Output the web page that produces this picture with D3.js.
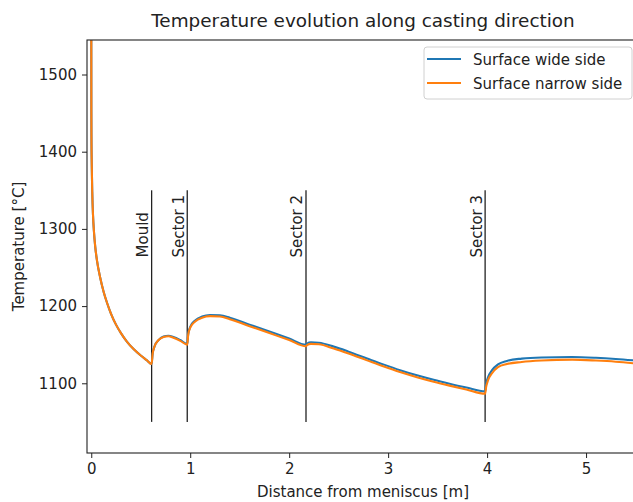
<!DOCTYPE html>
<html>
<head>
<meta charset="utf-8">
<script src="https://cdn.jsdelivr.net/npm/d3@7"></script>
<style>
    body { margin: 0; background: #fff; }
    text { font-family: "DejaVu Sans", sans-serif; fill: #222; }
</style>
</head>
<body>
<div id="chart" style="width:633px;height:502px;"></div>
<script>
// Distance from meniscus [m]
const distance = [
    0, 0.001, 0.002, 0.005, 0.01, 0.018, 0.027, 0.04, 0.058, 0.09, 0.124, 0.16, 0.20, 0.25, 0.30, 0.36, 0.43, 0.50, 0.56, 0.61,
    0.62, 0.64, 0.68, 0.73, 0.78, 0.83, 0.90, 0.97,
    0.98, 1.00, 1.05, 1.12, 1.20, 1.30, 1.40, 1.60, 1.80, 2.00, 2.17,
    2.18, 2.22, 2.30, 2.45, 2.60, 2.78, 2.95, 3.12, 3.30, 3.46, 3.62, 3.79, 3.98,
    3.99, 4.01, 4.05, 4.11, 4.20, 4.35, 4.55, 4.86, 5.10, 5.30, 5.55
];

// Surface temperature, wide side [°C]
const tempWide = [
    1600, 1455, 1420, 1383, 1348, 1317, 1297, 1277, 1259, 1237, 1219, 1204, 1190, 1176, 1165, 1154, 1144, 1136, 1130, 1125,
    1138, 1148, 1156, 1160.5, 1161.5, 1160, 1156, 1151,
    1164, 1173, 1181.5, 1186.5, 1188.5, 1188, 1185, 1176, 1167, 1158, 1150,
    1151.5, 1153, 1152.5, 1147.5, 1141, 1132.5, 1124.5, 1117, 1110, 1104.5, 1099.5, 1094.5, 1089.5,
    1099, 1108, 1117, 1124.5, 1129, 1132, 1133.5, 1134, 1133, 1131.5, 1129
];

// Surface temperature, narrow side [°C]
const tempNarrow = [
    1600, 1455, 1420, 1383, 1348, 1317, 1297, 1277, 1259, 1237, 1219, 1204, 1190, 1176, 1165, 1154, 1144, 1136, 1130, 1125,
    1138, 1148, 1156, 1160, 1161, 1159, 1155, 1150,
    1163, 1172, 1180, 1185, 1187, 1186.5, 1183, 1174, 1165, 1156, 1148,
    1149.5, 1151, 1150.5, 1145, 1138.5, 1130, 1122, 1114.5, 1107.5, 1102, 1097, 1092, 1086.5,
    1095, 1104, 1113, 1121, 1125, 1127.6, 1129.5, 1130.6, 1129.5, 1128, 1125
];

const seriesNames = ['Surface wide side', 'Surface narrow side'];
const seriesColors = ['#1f77b4', '#ff7f0e'];

// Zone boundaries
const zoneNames = ['Mould', 'Sector 1', 'Sector 2', 'Sector 3'];
const zoneEnds = [0.61, 0.97, 2.17, 3.98];
const zoneLineRange = [1050, 1350];
const zoneLabelTemp = 1263;

const xTicks = [0, 1, 2, 3, 4, 5];
const yTicks = [1100, 1200, 1300, 1400, 1500];

/**
 * Line chart of surface temperature along casting direction
 */
class TemperatureChart {
    constructor(elementId) {
        this.elementId = elementId;
        this.margin = { top: 40, right: -6, bottom: 49, left: 87 };
    }

    init() {
        const container = document.getElementById(this.elementId);
        container.innerHTML = '';

        const width = 633;
        const height = 502;
        const m = this.margin;
        const innerWidth = width - m.left - m.right;
        const innerHeight = height - m.top - m.bottom;

        const svg = d3.select(container)
            .append('svg')
            .attr('width', width)
            .attr('height', height);

        const x = d3.scaleLinear().domain([-0.043, 5.535]).range([0, innerWidth]);
        const y = d3.scaleLinear().domain([1009.7, 1544.7]).range([innerHeight, 0]);

        const g = svg.append('g')
            .attr('transform', `translate(${m.left},${m.top})`);

        g.append('clipPath')
            .attr('id', 'plot-clip')
            .append('rect')
            .attr('width', innerWidth)
            .attr('height', innerHeight);

        // Axes
        const xAxis = g.append('g')
            .attr('transform', `translate(0,${innerHeight})`)
            .call(d3.axisBottom(x).tickValues(xTicks).tickFormat(d3.format('d')).tickSize(5).tickPadding(5));
        const yAxis = g.append('g')
            .call(d3.axisLeft(y).tickValues(yTicks).tickFormat(d3.format('d')).tickSize(5).tickPadding(5));

        [xAxis, yAxis].forEach(a => {
            a.select('.domain').remove();
            a.selectAll('line').attr('stroke', '#222').attr('stroke-width', 1);
            a.selectAll('text')
                .style('font-size', '15px')
                .style('font-family', '"DejaVu Sans", sans-serif')
                .attr('fill', '#222');
        });

        // Zone boundary lines and labels
        const zones = g.append('g').selectAll('.zone')
            .data(zoneEnds)
            .enter()
            .append('g')
            .attr('class', 'zone');

        zones.append('line')
            .attr('x1', d => x(d))
            .attr('x2', d => x(d))
            .attr('y1', y(zoneLineRange[0]))
            .attr('y2', y(zoneLineRange[1]))
            .attr('stroke', '#222')
            .attr('stroke-width', 1.3);

        zones.append('text')
            .attr('transform', d => `translate(${x(d) - 3.5},${y(zoneLabelTemp)}) rotate(-90)`)
            .attr('text-anchor', 'start')
            .style('font-size', '15px')
            .text((d, i) => zoneNames[i]);

        // Temperature lines
        const line = d3.line()
            .x((d, i) => x(distance[i]))
            .y(d => y(d))
            .curve(d3.curveMonotoneX);

        g.append('g')
            .attr('clip-path', 'url(#plot-clip)')
            .selectAll('.series')
            .data([tempWide, tempNarrow])
            .enter()
            .append('path')
            .attr('class', 'series')
            .attr('d', line)
            .attr('fill', 'none')
            .attr('stroke', (d, i) => seriesColors[i])
            .attr('stroke-width', 2.1);

        // Frame
        g.append('rect')
            .attr('width', innerWidth)
            .attr('height', innerHeight)
            .attr('fill', 'none')
            .attr('stroke', '#222')
            .attr('stroke-width', 1.1);

        // Title and axis labels
        svg.append('text')
            .attr('x', m.left + innerWidth / 2)
            .attr('y', 27)
            .attr('text-anchor', 'middle')
            .style('font-size', '18.4px')
            .text('Temperature evolution along casting direction');

        svg.append('text')
            .attr('x', m.left + innerWidth / 2)
            .attr('y', 497)
            .attr('text-anchor', 'middle')
            .style('font-size', '15px')
            .text('Distance from meniscus [m]');

        svg.append('text')
            .attr('transform', `translate(24,${m.top + innerHeight / 2}) rotate(-90)`)
            .attr('text-anchor', 'middle')
            .style('font-size', '15px')
            .text('Temperature [°C]');

        // Legend
        const legend = svg.append('g').attr('transform', 'translate(424,47)');
        legend.append('rect')
            .attr('width', 208)
            .attr('height', 52)
            .attr('rx', 3)
            .attr('fill', '#fff')
            .attr('fill-opacity', 0.8)
            .attr('stroke', '#d0d0d0');

        const items = legend.selectAll('.item')
            .data(seriesNames)
            .enter()
            .append('g')
            .attr('class', 'item')
            .attr('transform', (d, i) => `translate(0,${12 + i * 24})`);

        items.append('line')
            .attr('x1', 3)
            .attr('x2', 37)
            .attr('stroke', (d, i) => seriesColors[i])
            .attr('stroke-width', 2.1);

        items.append('text')
            .attr('x', 49)
            .attr('y', 5.5)
            .style('font-size', '15px')
            .text(d => d);
    }
}

const chart = new TemperatureChart('chart');
chart.init();
</script>
</body>
</html>
